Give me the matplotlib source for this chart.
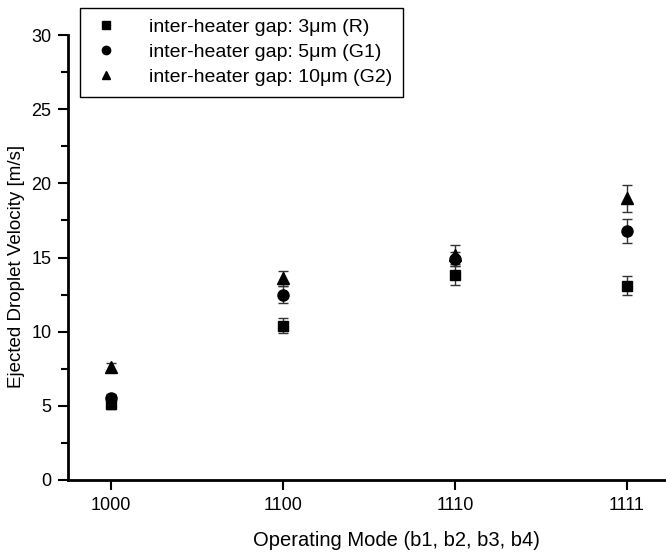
import matplotlib
matplotlib.use("Agg")
import matplotlib.pyplot as plt
from matplotlib.ticker import MultipleLocator

plt.rcParams['font.family'] = ['Liberation Sans', 'DejaVu Sans']

modes = ["1000", "1100", "1110", "1111"]
labels = ["inter-heater gap: 3\u03bcm (R)", "inter-heater gap: 5\u03bcm (G1)", "inter-heater gap: 10\u03bcm (G2)"]
vel_R = [5.1, 10.4, 13.8, 13.1]
err_R = [0.3, 0.5, 0.65, 0.65]
vel_G1 = [5.5, 12.5, 14.9, 16.8]
err_G1 = [0.3, 0.6, 0.5, 0.8]
vel_G2 = [7.6, 13.6, 15.2, 19.0]
err_G2 = [0.3, 0.5, 0.65, 0.9]
markers = ["s", "o", "^"]

fig = plt.figure(figsize=(6.66, 5.56), dpi=100)
ax = fig.add_axes([68/666, 1-480/556, 1-68/666, (480-35)/556])

x = list(range(len(modes)))
for vals, errs, m, lab in zip([vel_R, vel_G1, vel_G2], [err_R, err_G1, err_G2], markers, labels):
    ax.errorbar(x, vals, yerr=errs, fmt=m, color='black', markersize=7.5 if m == 's' else 8,
                ecolor='#333333', elinewidth=1.0, capsize=3.3, capthick=1.0, label=lab, linestyle='none')

ax.set_xlim(-0.25, 3.227)
ax.set_ylim(0, 30)
ax.set_xticks(x)
ax.set_xticklabels(modes)
ax.yaxis.set_major_locator(MultipleLocator(5))
ax.yaxis.set_minor_locator(MultipleLocator(2.5))
ax.tick_params(axis='both', which='major', direction='out', length=7, width=1.5, labelsize=13, pad=5)
ax.tick_params(axis='y', which='minor', direction='out', length=5, width=1.5)
for s in ['top', 'right']:
    ax.spines[s].set_visible(False)
for s in ['left', 'bottom']:
    ax.spines[s].set_linewidth(2)
ax.set_xlabel("Operating Mode (b1, b2, b3, b4)", fontsize=14.5, labelpad=10)
ax.xaxis.set_label_coords(0.55, -0.115)
ax.set_ylabel("Ejected Droplet Velocity [m/s]", fontsize=13.5, labelpad=8)
ax.yaxis.set_label_coords(-0.072, 0.48)

handles, labs = ax.get_legend_handles_labels()
handles = [h[0] for h in handles]
leg = ax.legend(handles, labs, loc='upper left', bbox_to_anchor=(12/598, 1 + 27/445), fontsize=14,
                frameon=True, fancybox=False, edgecolor='black', framealpha=1, markerscale=0.75,
                handletextpad=1.4, borderpad=0.55, labelspacing=0.38, handlelength=1.6, borderaxespad=0)
leg.get_frame().set_linewidth(1.0)

fig.savefig("out.png", dpi=100)
